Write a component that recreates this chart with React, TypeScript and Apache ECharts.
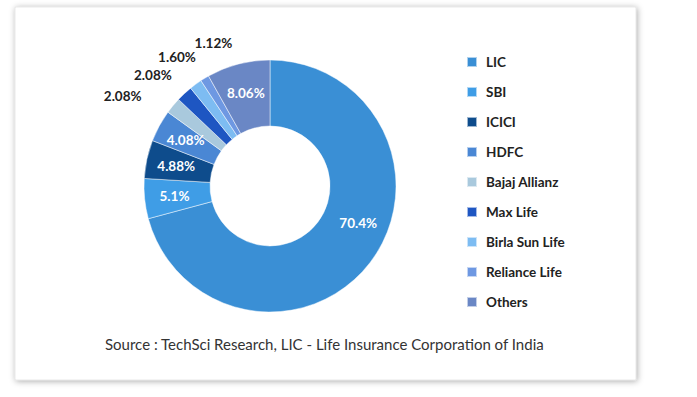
import React, { useEffect, useRef } from "react";
import * as echarts from "echarts";

const categories = ["LIC", "SBI", "ICICI", "HDFC", "Bajaj Allianz", "Max Life", "Birla Sun Life", "Reliance Life", "Others"];
const shares = [70.4, 5.1, 4.88, 4.08, 2.08, 2.08, 1.6, 1.12, 8.06];
const labelTexts = ["70.4%", "5.1%", "4.88%", "4.08%", "2.08%", "2.08%", "1.60%", "1.12%", "8.06%"];
const colors = ["#3a8fd5", "#3f9de6", "#0e4c8c", "#4a87d4", "#a9c9dd", "#1e56c2", "#7dbcf2", "#6e98e2", "#6a87c5"];
const outsideIdx = [4, 5, 6, 7];
const labelShift: Record<number, [number, number]> = {
  0: [12, -21],
  4: [-11, 3],
  5: [6, -4],
  6: [17, -11],
  7: [43, -18],
};

const FONT = "Lato, 'Open Sans', sans-serif";

export default function App() {
  const ref = useRef<HTMLDivElement>(null);
  useEffect(() => {
    if (!ref.current) return;
    const chart = echarts.init(ref.current, undefined, { renderer: "svg" });
    const data = categories.map((name, i) => {
      const outside = outsideIdx.includes(i);
      return {
        name,
        value: shares[i],
        itemStyle: { color: colors[i] },
        label: outside
          ? { show: true, position: "outside", color: "#222", formatter: labelTexts[i] }
          : { show: true, position: "inside", color: "#fff", formatter: labelTexts[i] },
        labelLine: { show: false, length: 20, length2: 0 },
      };
    });
    chart.setOption({
      animation: false,
      backgroundColor: "#ffffff",
      graphic: [
        {
          type: "rect",
          z: -10,
          shape: { x: 15, y: 7, width: 621, height: 373 },
          style: {
            fill: "#ffffff",
            stroke: "#d0d0d0",
            lineWidth: 0.5,
            shadowBlur: 6,
            shadowColor: "rgba(0,0,0,0.35)",
            shadowOffsetX: 1,
            shadowOffsetY: 1,
          },
        },
      ],
      title: {
        text: "Source : TechSci Research, LIC - Life Insurance Corporation of India",
        left: 100,
        top: 331,
        textStyle: { fontFamily: FONT, fontSize: 15, fontWeight: "normal", color: "#333" },
      },
      legend: {
        orient: "vertical",
        left: 461,
        top: 50,
        itemWidth: 10,
        itemHeight: 10,
        itemGap: 16,
        icon: "rect",
        data: categories,
        textStyle: {
          fontFamily: FONT,
          fontSize: 13.5,
          fontWeight: "bold",
          color: "#222",
          lineHeight: 14,
          padding: [0, 0, 0, 4],
        },
      },
      series: [
        {
          type: "pie",
          center: [270, 186],
          radius: [60, 126],
          startAngle: 90,
          clockwise: true,
          avoidLabelOverlap: false,
          label: { fontFamily: FONT, fontSize: 13.5, fontWeight: "bold" },
          itemStyle: { borderColor: "rgba(255,255,255,0.6)", borderWidth: 0.8 },
          emphasis: { disabled: true },
          labelLayout: (params: any) => {
            const s = labelShift[params.dataIndex];
            return s ? { dx: s[0], dy: s[1] } : {};
          },
          data,
        },
      ],
    });
    return () => chart.dispose();
  }, []);
  return <div ref={ref} style={{ position: "absolute", left: 0, top: 0, width: 697, height: 397 }} />;
}
